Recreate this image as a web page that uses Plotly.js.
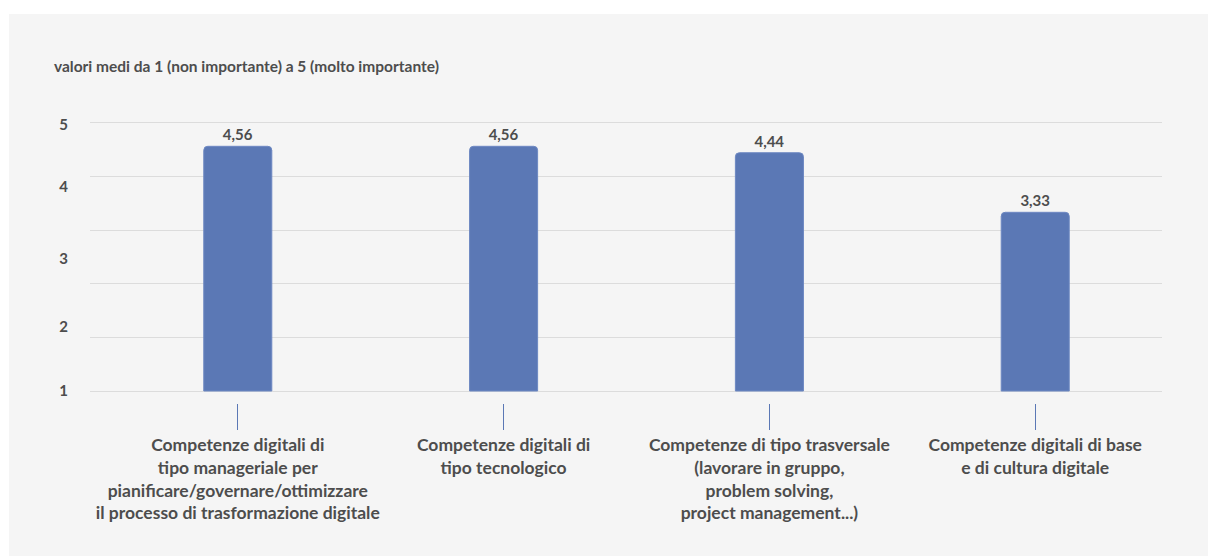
<!DOCTYPE html>
<html>
<head>
<meta charset="utf-8">
<script src="https://cdn.plot.ly/plotly-3.0.1.min.js"></script>
<style>
  html, body { margin: 0; padding: 0; background: #ffffff; width: 1208px; height: 556px; overflow: hidden; }
  #chart { position: absolute; left: 9px; top: 14px; width: 1199px; height: 542px; }
</style>
</head>
<body>
<div id="chart"></div>
<script>
// ---- data ----
const categories = [
  "Competenze digitali di<br>tipo manageriale per<br>pianificare/governare/ottimizzare<br>il processo di trasformazione digitale",
  "Competenze digitali di<br>tipo tecnologico",
  "Competenze di tipo trasversale<br>(lavorare in gruppo,<br>problem solving,<br>project management...)",
  "Competenze digitali di base<br>e di cultura digitale"
];
const values = [4.56, 4.56, 4.44, 3.33];
const yTickText = ["1", "2", "3", "4", "5"];
const yTickPos = [0, 1.19, 2.47, 3.81, 4.97];
const chartTitle = "valori medi da 1 (non importante) a 5 (molto importante)";

const FONT = "Lato, 'Open Sans', sans-serif";
const TXT = "#4d4d4d";
const yRange = [-0.2235, 5.05];

const trace = {
  type: "bar",
  x: categories,
  y: values,
  width: 0.256,
  marker: { color: "#5b78b5", line: { color: "#6d88c2", width: 1 } },
  text: values.map(v => v.toFixed(2).replace(".", ",")),
  textposition: "outside",
  textfont: { family: FONT, size: 15, color: TXT, weight: 700 },
  cliponaxis: false,
  hoverinfo: "skip"
};

// invisible trace to activate the label axis
const labelTrace = {
  type: "scatter", mode: "markers",
  x: [categories[0]], y: [0],
  yaxis: "y2",
  marker: { opacity: 0 },
  hoverinfo: "skip", showlegend: false
};

const layout = {
  width: 1199, height: 542,
  margin: { l: 81, r: 46, t: 105.6, b: 153.3, pad: 0 },
  paper_bgcolor: "#f5f5f5",
  plot_bgcolor: "#f5f5f5",
  showlegend: false,
  barcornerradius: 4,
  title: {
    text: chartTitle,
    font: { family: FONT, size: 15.5, color: TXT, weight: 700 },
    xref: "container", yref: "container",
    x: 0.0375, xanchor: "left",
    y: 0.9022, yanchor: "middle"
  },
  xaxis: {
    type: "category",
    range: [-0.556, 3.477],
    showgrid: false, zeroline: false, showline: false,
    ticks: "outside", ticklen: 26, tickwidth: 1, tickcolor: "#5b78b5",
    tickfont: { family: FONT, size: 17.5, color: TXT, weight: 700 },
    fixedrange: true
  },
  yaxis: {
    range: yRange,
    dtick: 1, tick0: 0,
    showgrid: true, gridcolor: "#dcdcdc", gridwidth: 1,
    zeroline: false, showline: false,
    showticklabels: false, ticks: "",
    fixedrange: true
  },
  yaxis2: {
    overlaying: "y",
    side: "left",
    range: yRange,
    tickmode: "array",
    tickvals: yTickPos,
    ticktext: yTickText,
    showgrid: false, zeroline: false, showline: false,
    ticks: "outside", ticklen: 18, tickcolor: "rgba(0,0,0,0)",
    tickfont: { family: FONT, size: 15, color: TXT, weight: 700 },
    fixedrange: true
  }
};

Plotly.newPlot("chart", [trace, labelTrace], layout, { displayModeBar: false, staticPlot: true });
</script>
</body>
</html>
